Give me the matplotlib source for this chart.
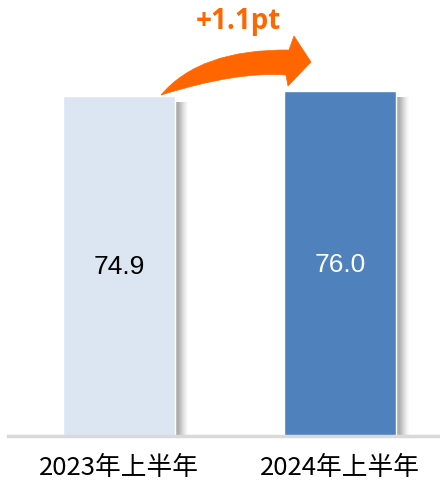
import matplotlib
matplotlib.use('Agg')
import matplotlib.pyplot as plt
from matplotlib.path import Path
from matplotlib.patches import PathPatch
import numpy as np

plt.rcParams['font.family'] = ['Noto Sans CJK SC', 'DejaVu Sans']

categories = ['2023年上半年', '2024年上半年']
values = [74.9, 76.0]
value_labels = ['74.9', '76.0']
change_label = '+1.1pt'

bar_colors = ['#DCE6F2', '#4F81BD']
label_colors = ['black', 'white']
orange = '#FF6600'

W, H = 440, 481
fig = plt.figure(figsize=(W / 100, H / 100), dpi=100)
ax = fig.add_axes([8 / W, (H - 437) / H, 1 - 8 / W, 437 / H])

x = np.arange(len(values))
bw = 0.507

# soft gray shadow on the right side of each bar
for i, v in enumerate(values):
    for k in range(13):
        a = 0.7 if k < 4 else 0.7 * (1 - (k - 3) / 10) ** 1.3
        ax.bar(x[i] + bw / 2 + (k + 0.5) / 221, v - 1.2, width=1 / 221,
               bottom=0, color='#8C8C8C', alpha=a, linewidth=0, zorder=1)

ax.bar(x, values, width=bw, color=bar_colors, edgecolor='white', linewidth=1.0, zorder=2)

for i, v in enumerate(values):
    ax.text(x[i], v / 2, value_labels[i], ha='center', va='center',
            fontsize=19, color=label_colors[i], family=['Liberation Sans', 'DejaVu Sans'], zorder=3)

ax.set_xlim(-0.502, 1.452)
ax.set_ylim(0, 96.3)
ax.axhline(0, color='#D9D9D9', linewidth=2.5, zorder=4, clip_on=False)
for s in ax.spines.values():
    s.set_visible(False)
ax.set_xticks(x)
ax.set_xticklabels(categories, fontsize=18.5)
ax.tick_params(axis='x', length=0, pad=13)
ax.set_yticks([])


# curved arrow between the bars, in figure pixels
def fp(px, py):
    return (px / W, 1 - py / H)


verts = [fp(161, 96), fp(200, 50), fp(289, 51), fp(294, 37), fp(311, 63),
         fp(288, 87), fp(286, 76), fp(238, 72), fp(161, 96)]
codes = [Path.MOVETO, Path.CURVE3, Path.CURVE3, Path.LINETO, Path.LINETO,
         Path.LINETO, Path.LINETO, Path.CURVE3, Path.CURVE3]
fig.patches.append(PathPatch(Path(verts, codes), facecolor=orange, edgecolor=orange,
                             linewidth=0.5, transform=fig.transFigure))
fig.text(238 / W, 1 - 22 / H, change_label, ha='center', va='center', fontsize=20,
         fontweight='bold', color=orange, family=['Open Sans', 'DejaVu Sans'])

fig.savefig('out.png', dpi=100)
